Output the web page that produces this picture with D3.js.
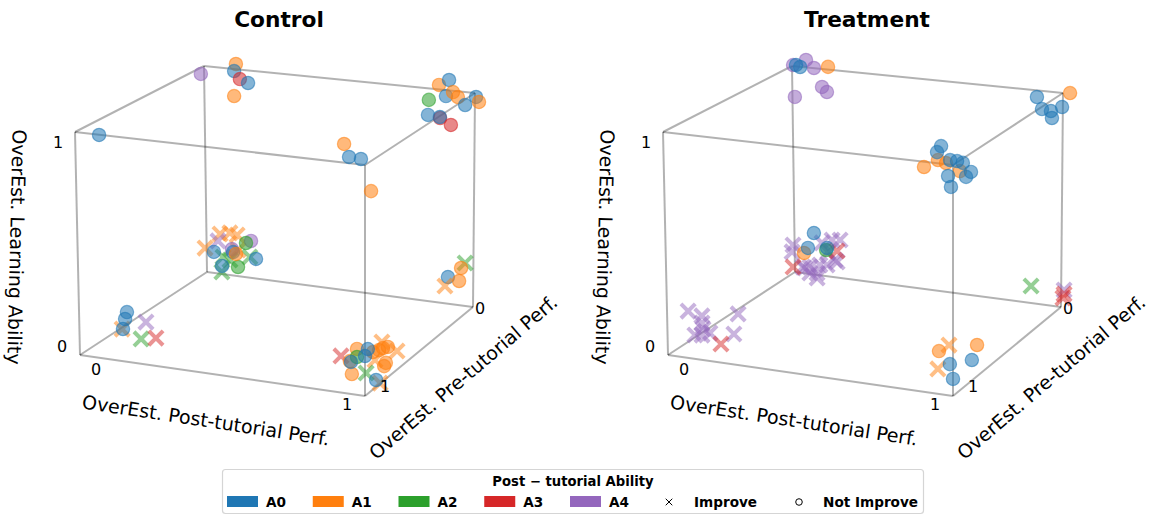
<!DOCTYPE html>
<html>
<head>
<meta charset="utf-8">
<style>
  body { margin: 0; background: #fff; }
  text { font-family: 'DejaVu Sans', sans-serif; fill: #000; }
</style>
<script src="https://cdn.jsdelivr.net/npm/d3@7"></script>
</head>
<body>
<script>
// values: post = OverEst. Post-tutorial, pre = OverEst. Pre-tutorial, learn = OverEst. Learning
const controlPost = [
  -0.012, 0.118, 0.111, 0.132, 0.162, 0.110, 0.083, 0.867, 0.904, 0.893,
  0.919, 0.937, 0.964, 1.004, 1.015, 0.830, 0.827, 0.872, 0.871, 0.912,
  0.928, 0.945, 0.986, 1.021, -0.006, 0.051, 0.088, 0.115, 0.118, 0.043,
  0.162, 0.056, 0.061, 0.087, 0.167, 0.095, 0.148, 0.117, 0.027, 0.185,
  0.057, 0.099, 0.110, 0.969, 0.954, 0.905, 0.947, 0.894, 0.916, 1.059,
  1.112, 1.035, 1.053, 1.004, 0.947, 0.972, 0.954, 1.028, 1.049, 1.063,
  1.080, 1.073, 1.067, 0.972, 0.951, 1.010, 1.000, 1.039, 0.150, 0.234,
  0.216, 0.268, 0.153, 0.161, 0.168,
]
const controlPre = [
  0, 0, 0, 0, 0, 0, 1, 0, 0, 0,
  0, 0, 0, 0, 0, 0, 0, 0, 0, 0,
  1, 1, 1, 1, 0, 0, 0, 0, 0, 0,
  0, 0, 0, 0, 0, 0, 0, 0, 0, 0,
  0, 0, 0, 0, 0, 0, 0, 0, 1, 1,
  1, 1, 1, 1, 1, 1, 1, 1, 1, 1,
  1, 1, 1, 1, 1, 1, 1, 1, 1, 1,
  1, 1, 1, 1, 1,
]
const controlLearn = [
  0.960, 1.025, 0.990, 0.954, 0.939, 0.869, 0.999, 1.021, 1.049, 0.972,
  0.994, 0.973, 0.939, 0.982, 0.960, 0.946, 0.875, 0.866, 0.871, 0.839,
  1.081, 1.027, 1.024, 0.890, 0.115, 0.193, 0.204, 0.198, 0.126, 0.158,
  0.100, 0.010, 0.083, 0.073, 0.178, 0.127, 0.165, 0.044, 0.102, 0.094,
  0.039, 0.113, 0.106, 0.201, 0.175, 0.125, 0.113, 0.081, 0.159, 0.244,
  0.214, 0.162, 0.065, 0.100, 0.142, 0.199, 0.087, 0.195, 0.207, 0.218,
  0.226, 0.156, 0.141, 0.164, 0.139, 0.205, 0.173, 0.076, 0.143, 0.189,
  0.111, 0.124, 0.144, 0.190, 0.222,
]
const controlAbility = [
  4, 1, 0, 3, 0, 1, 0, 1, 0, 0,
  1, 1, 0, 0, 1, 2, 0, 3, 0, 3,
  1, 0, 0, 1, 1, 1, 1, 1, 1, 4,
  2, 2, 2, 2, 4, 4, 2, 2, 0, 0,
  0, 0, 1, 2, 1, 0, 1, 1, 3, 1,
  1, 1, 1, 2, 1, 1, 1, 1, 1, 1,
  1, 1, 1, 2, 0, 0, 0, 0, 1, 4,
  2, 3, 0, 0, 0,
]
const controlImprove = [
  0, 0, 0, 0, 0, 0, 0, 0, 0, 0,
  0, 0, 0, 0, 0, 0, 0, 0, 0, 0,
  0, 0, 0, 0, 1, 1, 1, 1, 1, 1,
  1, 1, 1, 1, 0, 0, 0, 0, 0, 0,
  0, 0, 0, 1, 0, 0, 0, 1, 1, 1,
  1, 1, 1, 1, 0, 0, 0, 0, 0, 0,
  0, 0, 0, 0, 0, 0, 0, 0, 1, 1,
  1, 1, 0, 0, 0,
]

const treatmentPost = [
  0.004, 0.052, 0.081, 0.110, 0.128, 0.009, 0.030, 0.015, 0.133, 1.026,
  0.904, 0.923, 0.956, 0.960, 0.997, 0.900, 0.948, 0.976, 1.024, 0.959,
  0.945, 0.990, 1.014, 1.034, 1.062, 1.045, 0.983, 0.993, -0.006, -0.010,
  0.141, 0.171, 0.125, 0.151, 0.159, 0.121, 0.057, 0.030, 0.083, 0.056,
  0.083, 0.038, 0.094, 0.103, -0.007, 0.159, 0.118, 0.035, 0.073, 0.050,
  0.122, 0.074, 0.122, 0.122, 0.096, 0.125, 0.149, 0.121, 0.249, 0.233,
  0.187, 0.887, 1.011, 1.011, 1.007, 0.986, 0.947, 0.951, 1.084, 0.989,
  1.066, 1.000,
]
const treatmentPre = [
  0, 0, 0, 0, 0, 0, 0, 0, 0, 0,
  0, 0, 0, 0, 0, 1, 1, 1, 1, 1,
  1, 1, 1, 1, 1, 1, 1, 1, 0, 0,
  0, 0, 0, 0, 0, 0, 0, 0, 0, 0,
  0, 0, 0, 0, 0, 0, 0, 0, 0, 0,
  0, 1, 1, 1, 1, 1, 1, 1, 1, 1,
  1, 0, 0, 0, 0, 1, 1, 1, 1, 1,
  1, 1,
]
const treatmentLearn = [
  1.005, 1.036, 1.001, 0.913, 0.891, 0.851, 0.999, 1.007, 1.013, 1.003,
  0.969, 0.915, 0.910, 0.878, 0.934, 0.977, 1.014, 1.005, 0.977, 1.076,
  1.048, 1.020, 1.019, 1.014, 0.979, 0.955, 0.950, 0.904, 0.130, 0.096,
  0.178, 0.183, 0.118, 0.083, 0.075, 0.054, 0.034, 0.029, 0.009, 0.005,
  -0.015, 0.026, 0.050, 0.158, 0.023, 0.128, 0.126, 0.098, 0.201, 0.125,
  0.137, 0.210, 0.197, 0.165, 0.107, 0.139, 0.125, 0.111, 0.228, 0.136,
  0.083, 0.080, 0.081, 0.062, 0.043, 0.218, 0.108, 0.186, 0.235, 0.136,
  0.167, 0.074,
]
const treatmentAbility = [
  4, 4, 4, 4, 4, 4, 0, 0, 1, 1,
  0, 0, 0, 0, 0, 1, 1, 1, 1, 0,
  0, 0, 0, 0, 0, 0, 0, 0, 4, 4,
  4, 4, 4, 4, 4, 4, 4, 4, 4, 4,
  4, 4, 4, 4, 3, 3, 2, 1, 0, 0,
  0, 4, 4, 4, 4, 4, 4, 4, 4, 4,
  3, 2, 4, 3, 3, 1, 1, 1, 1, 0,
  0, 0,
]
const treatmentImprove = [
  0, 0, 0, 0, 0, 0, 0, 0, 0, 0,
  0, 0, 0, 0, 0, 0, 0, 0, 0, 0,
  0, 0, 0, 0, 0, 0, 0, 0, 1, 1,
  1, 1, 1, 1, 1, 1, 1, 1, 1, 1,
  1, 1, 1, 1, 1, 1, 0, 0, 0, 0,
  0, 1, 1, 1, 1, 1, 1, 1, 1, 1,
  1, 1, 1, 1, 1, 1, 1, 0, 0, 0,
  0, 0,
]

const abilityNames = ['A0', 'A1', 'A2', 'A3', 'A4']
const abilityColors = ['#1f77b4', '#ff7f0e', '#2ca02c', '#d62728', '#9467bd']
const tickLabels = ['0', '1']

const width = 1153
const height = 518
const panelGap = 588

// where the cube's corners land on screen, keyed post/pre/learn
const corners = {
  '010': [80, 355], '110': [365, 396], '100': [473, 307], '000': [207, 272],
  '011': [75, 132], '111': [365, 165], '101': [475, 93], '001': [204, 66],
}
const edges = [
  ['010', '110'], ['110', '100'], ['100', '000'], ['000', '010'],
  ['011', '111'], ['111', '101'], ['101', '001'], ['001', '011'],
  ['010', '011'], ['110', '111'], ['100', '101'], ['000', '001'],
]

const toUnit = d3.scaleLinear().domain([0, 1]).range([0, 1])
const mix = (a, b, t) => d3.interpolateArray(a, b)(t)

function project(post, pre, learn) {
  const u = toUnit(post)
  const v = toUnit(pre)
  const w = toUnit(learn)
  const bottom = mix(
    mix(corners['000'], corners['100'], u),
    mix(corners['010'], corners['110'], u),
    v
  )
  const top = mix(
    mix(corners['001'], corners['101'], u),
    mix(corners['011'], corners['111'], u),
    v
  )
  return mix(bottom, top, w)
}

const circleMark = d3.symbol().type(d3.symbolCircle).size(140)
const crossMark = d3.symbol().type(d3.symbolX).size(135)

const svg = d3
  .select('body')
  .append('svg')
  .attr('width', width)
  .attr('height', height)

function drawPanel(title, offset, post, pre, learn, ability, improve) {
  const g = svg.append('g').attr('transform', `translate(${offset},0)`)

  g.append('text')
    .attr('x', 279)
    .attr('y', 27)
    .attr('text-anchor', 'middle')
    .style('font-size', '21.7px')
    .style('font-weight', 'bold')
    .text(title)

  // cube frame
  g.selectAll('line.edge')
    .data(edges)
    .join('line')
    .attr('class', 'edge')
    .attr('x1', ([a]) => corners[a][0])
    .attr('y1', ([a]) => corners[a][1])
    .attr('x2', ([, b]) => corners[b][0])
    .attr('y2', ([, b]) => corners[b][1])
    .attr('stroke', '#000')
    .attr('stroke-opacity', 0.3)
    .attr('stroke-width', 2)

  // points
  const points = post.map((p, i) => ({
    at: project(p, pre[i], learn[i]),
    ability: ability[i],
    improve: improve[i],
  }))
  g.selectAll('path.point')
    .data(points)
    .join('path')
    .attr('class', 'point')
    .attr('transform', (d) => `translate(${d.at[0]},${d.at[1]})`)
    .attr('d', (d) => (d.improve ? crossMark() : circleMark()))
    .attr('fill', (d) => (d.improve ? 'none' : abilityColors[d.ability]))
    .attr('fill-opacity', 0.55)
    .attr('stroke', (d) => abilityColors[d.ability])
    .attr('stroke-opacity', (d) => (d.improve ? 0.5 : 0.55))
    .attr('stroke-width', (d) => (d.improve ? 4 : 1.2))

  // tick labels
  const ticks = [
    { at: project(0, 1, 0), dx: 16, dy: 14, label: tickLabels[0] },
    { at: project(1, 1, 0), dx: -18, dy: 8, label: tickLabels[1] },
    { at: project(1, 1, 0), dx: 20, dy: -10, label: tickLabels[1] },
    { at: project(1, 0, 0), dx: 7, dy: 1, label: tickLabels[0] },
    { at: project(0, 1, 1), dx: -17, dy: 10, label: tickLabels[1] },
    { at: project(0, 1, 0), dx: -18, dy: -9, label: tickLabels[0] },
  ]
  g.selectAll('text.tick')
    .data(ticks)
    .join('text')
    .attr('class', 'tick')
    .attr('x', (d) => d.at[0] + d.dx)
    .attr('y', (d) => d.at[1] + d.dy)
    .attr('text-anchor', 'middle')
    .attr('dominant-baseline', 'central')
    .style('font-size', '16px')
    .text((d) => d.label)

  // axis titles
  const axisTitles = [
    { x: 206, y: 420, angle: 8.6, label: 'OverEst. Post-tutorial Perf.' },
    { x: 463, y: 377, angle: -40.5, label: 'OverEst. Pre-tutorial Perf.' },
    { x: 17, y: 247, angle: 91.3, label: 'OverEst. Learning Ability' },
  ]
  g.selectAll('text.axis-title')
    .data(axisTitles)
    .join('text')
    .attr('class', 'axis-title')
    .attr('text-anchor', 'middle')
    .attr('dominant-baseline', 'central')
    .attr('transform', (d) => `translate(${d.x},${d.y}) rotate(${d.angle})`)
    .style('font-size', '19px')
    .text((d) => d.label)
}

drawPanel('Control', 0, controlPost, controlPre, controlLearn, controlAbility, controlImprove)
drawPanel('Treatment', panelGap, treatmentPost, treatmentPre, treatmentLearn, treatmentAbility, treatmentImprove)

// legend
const legend = svg.append('g')
legend
  .append('rect')
  .attr('x', 222.5)
  .attr('y', 469.5)
  .attr('width', 701)
  .attr('height', 44)
  .attr('rx', 3)
  .attr('fill', '#fff')
  .attr('stroke', '#d5d5d5')
  .attr('stroke-width', 1.2)

legend
  .append('text')
  .attr('x', 573)
  .attr('y', 481)
  .attr('text-anchor', 'middle')
  .attr('dominant-baseline', 'central')
  .style('font-size', '13.2px')
  .style('font-weight', 'bold')
  .text('Post \u2212 tutorial Ability')

const legendX = d3.scalePoint().domain(abilityNames).range([227, 570])

legend
  .selectAll('rect.swatch')
  .data(abilityNames)
  .join('rect')
  .attr('class', 'swatch')
  .attr('x', (d) => legendX(d))
  .attr('y', 496)
  .attr('width', 31)
  .attr('height', 11)
  .attr('fill', (d, i) => abilityColors[i])

const legendLabels = [
  ...abilityNames.map((d) => ({ x: legendX(d) + 39, label: d })),
  { x: 694, label: 'Improve' },
  { x: 823, label: 'Not Improve' },
]
legend
  .selectAll('text.entry')
  .data(legendLabels)
  .join('text')
  .attr('class', 'entry')
  .attr('x', (d) => d.x)
  .attr('y', 502)
  .attr('dominant-baseline', 'central')
  .style('font-size', '13.6px')
  .style('font-weight', 'bold')
  .text((d) => d.label)

legend
  .append('path')
  .attr('transform', 'translate(669,502)')
  .attr('d', d3.symbol().type(d3.symbolX).size(30)())
  .attr('fill', 'none')
  .attr('stroke', '#000')
  .attr('stroke-width', 1)

legend
  .append('path')
  .attr('transform', 'translate(799,502)')
  .attr('d', d3.symbol().type(d3.symbolCircle).size(34)())
  .attr('fill', 'none')
  .attr('stroke', '#000')
  .attr('stroke-width', 1)
</script>
</body>
</html>
